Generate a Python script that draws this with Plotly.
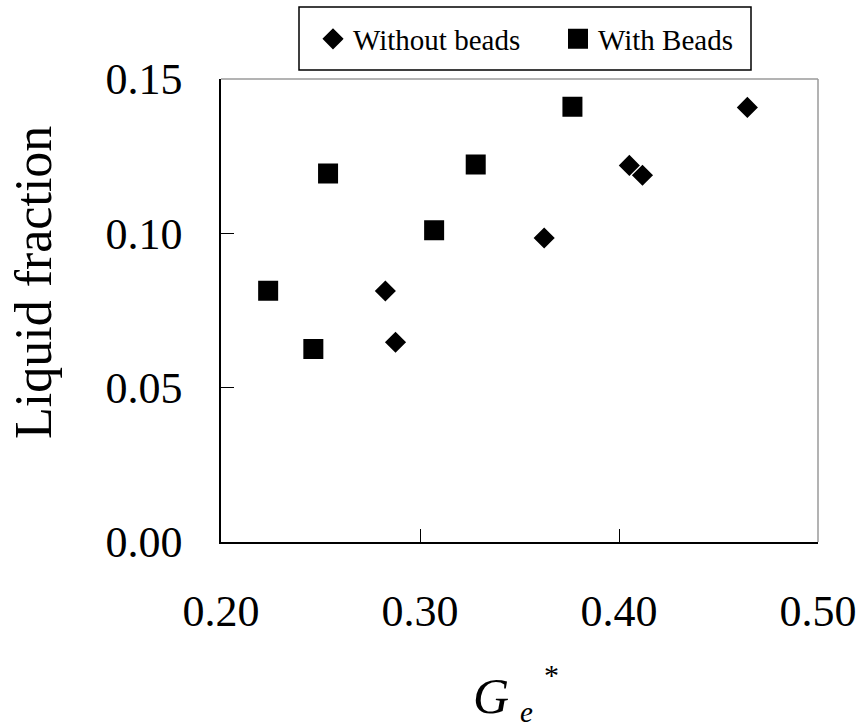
import plotly.graph_objects as go

# Data
without_x = [0.4645, 0.4052, 0.4118, 0.3624, 0.2826, 0.2877]
without_y = [0.1408, 0.1220, 0.1188, 0.0985, 0.0813, 0.0647]
with_x = [0.3766, 0.3280, 0.2538, 0.3071, 0.2237, 0.2464]
with_y = [0.1410, 0.1223, 0.1194, 0.1010, 0.0814, 0.0625]

x_ticks = [0.20, 0.30, 0.40, 0.50]
x_tick_labels = ["0.20", "0.30", "0.40", "0.50"]
y_ticks = [0.00, 0.05, 0.10, 0.15]
y_tick_labels = ["0.00", "0.05", "0.10", "0.15"]

FONT = "Liberation Serif"
W, H = 858, 727
L, T = 221, 79
R = W - 818
B = H - 542
PW, PH = W - L - R, H - T - B


def px_x(px):
    return (px - L) / PW


def px_y(py):
    return (H - B - py) / PH


fig = go.Figure()
fig.add_trace(go.Scatter(
    x=without_x, y=without_y, mode="markers", name="Without beads",
    marker=dict(symbol="diamond", size=13, color="black",
                line=dict(width=3, color="black")),
))
fig.add_trace(go.Scatter(
    x=with_x, y=with_y, mode="markers", name="With Beads",
    marker=dict(symbol="square", size=15, color="black",
                line=dict(width=5, color="black")),
))

fig.update_layout(
    width=W, height=H,
    margin=dict(l=L, r=R, t=T, b=B, autoexpand=False),
    paper_bgcolor="white", plot_bgcolor="white",
    font=dict(family=FONT, color="black"),
    showlegend=True,
    legend=dict(
        orientation="h", x=px_x(313), xanchor="left", y=px_y(39), yanchor="middle",
        font=dict(family=FONT, size=29, color="black"),
        bgcolor="rgba(0,0,0,0)", borderwidth=0,
        entrywidth=200, entrywidthmode="pixels",
    ),
    xaxis=dict(
        range=[0.2, 0.5], tickvals=x_ticks, ticktext=x_tick_labels,
        ticks="inside", ticklen=13, tickwidth=1, tickcolor="black",
        showline=True, linecolor="black", linewidth=1.5, mirror=False,
        showgrid=False, zeroline=False,
        tickfont=dict(family=FONT, size=44, color="black"),
        ticklabelstandoff=29,
    ),
    yaxis=dict(
        range=[0, 0.15], tickvals=y_ticks, ticktext=y_tick_labels,
        ticks="inside", ticklen=13, tickwidth=1, tickcolor="black",
        showline=True, linecolor="black", linewidth=1.5, mirror=False,
        showgrid=False, zeroline=False,
        tickfont=dict(family=FONT, size=44, color="black"),
        ticklabelstandoff=28,
    ),
    shapes=[
        dict(type="line", xref="paper", yref="paper", x0=0, x1=1, y0=1, y1=1,
             line=dict(color="#9a9a9a", width=1.5), layer="below"),
        dict(type="line", xref="paper", yref="paper", x0=1, x1=1, y0=0, y1=1,
             line=dict(color="#9a9a9a", width=1.5), layer="below"),
        dict(type="rect", xref="paper", yref="paper",
             x0=px_x(299), x1=px_x(751), y0=px_y(70), y1=px_y(7),
             line=dict(color="black", width=1.5), fillcolor="rgba(0,0,0,0)"),
    ],
    annotations=[
        dict(text="Liquid fraction", textangle=-90, xref="paper", yref="paper",
             x=px_x(33), y=px_y(283), xanchor="center", yanchor="middle",
             showarrow=False, font=dict(family=FONT, size=52, color="black")),
        dict(text="<i>G</i>", xref="paper", yref="paper",
             x=px_x(491), y=px_y(696), xanchor="center", yanchor="middle",
             showarrow=False, font=dict(family=FONT, size=50, color="black")),
        dict(text="<i>e</i>", xref="paper", yref="paper",
             x=px_x(526), y=px_y(712), xanchor="center", yanchor="middle",
             showarrow=False, font=dict(family=FONT, size=29, color="black")),
        dict(text="*", xref="paper", yref="paper",
             x=px_x(551), y=px_y(674), xanchor="center", yanchor="middle",
             showarrow=False, font=dict(family=FONT, size=30, color="black")),
    ],
)

fig.write_html(
    "out.html",
    config={"displayModeBar": False},
    post_script="document.body.style.margin='0';document.body.style.overflow='hidden';",
)
